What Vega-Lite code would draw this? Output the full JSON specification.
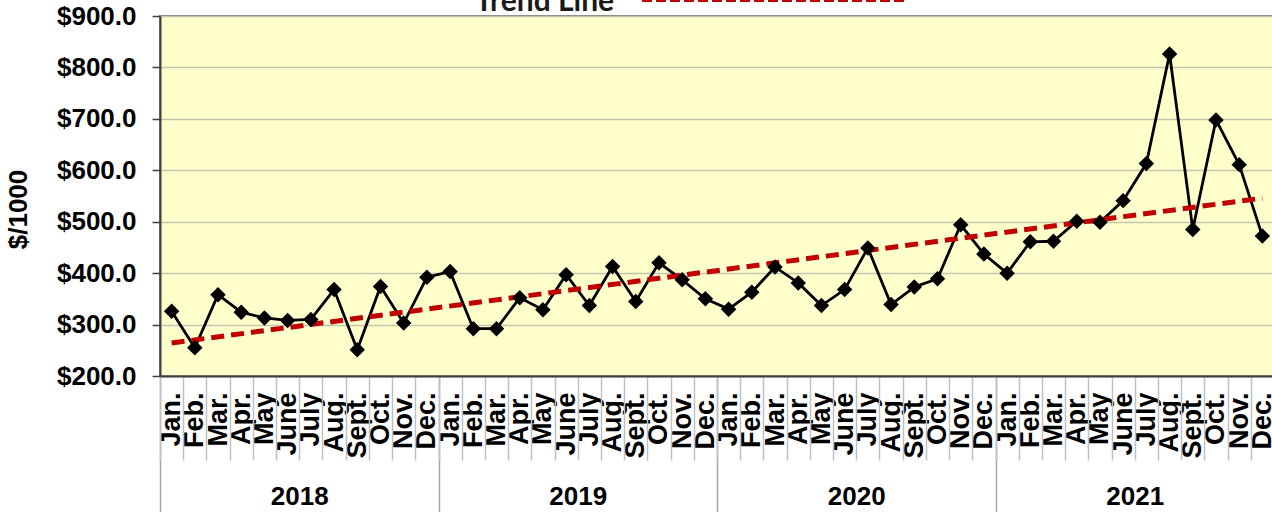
{
  "$schema": "https://vega.github.io/schema/vega-lite/v6.json",
  "width": 1114,
  "height": 360,
  "autosize": {"type": "none"},
  "padding": {"left": 160, "top": 16, "right": 0, "bottom": 136},
  "background": "white",
  "config": {
    "view": {"fill": "#FFFFCC", "stroke": "#808080", "strokeWidth": 2},
    "font": "Liberation Sans"
  },
  "data": {
    "values": [
      {"i": 1, "year": 2018, "month": "Jan.", "value": 326},
      {"i": 2, "year": 2018, "month": "Feb.", "value": 255},
      {"i": 3, "year": 2018, "month": "Mar.", "value": 358},
      {"i": 4, "year": 2018, "month": "Apr.", "value": 324},
      {"i": 5, "year": 2018, "month": "May", "value": 313},
      {"i": 6, "year": 2018, "month": "June", "value": 308},
      {"i": 7, "year": 2018, "month": "July", "value": 310},
      {"i": 8, "year": 2018, "month": "Aug.", "value": 368},
      {"i": 9, "year": 2018, "month": "Sept.", "value": 251},
      {"i": 10, "year": 2018, "month": "Oct.", "value": 374},
      {"i": 11, "year": 2018, "month": "Nov.", "value": 303},
      {"i": 12, "year": 2018, "month": "Dec.", "value": 392},
      {"i": 13, "year": 2019, "month": "Jan.", "value": 403},
      {"i": 14, "year": 2019, "month": "Feb.", "value": 292},
      {"i": 15, "year": 2019, "month": "Mar.", "value": 292},
      {"i": 16, "year": 2019, "month": "Apr.", "value": 352},
      {"i": 17, "year": 2019, "month": "May", "value": 329},
      {"i": 18, "year": 2019, "month": "June", "value": 397},
      {"i": 19, "year": 2019, "month": "July", "value": 337},
      {"i": 20, "year": 2019, "month": "Aug.", "value": 413},
      {"i": 21, "year": 2019, "month": "Sept.", "value": 345},
      {"i": 22, "year": 2019, "month": "Oct.", "value": 420},
      {"i": 23, "year": 2019, "month": "Nov.", "value": 387},
      {"i": 24, "year": 2019, "month": "Dec.", "value": 350},
      {"i": 25, "year": 2020, "month": "Jan.", "value": 330},
      {"i": 26, "year": 2020, "month": "Feb.", "value": 363},
      {"i": 27, "year": 2020, "month": "Mar.", "value": 412},
      {"i": 28, "year": 2020, "month": "Apr.", "value": 381},
      {"i": 29, "year": 2020, "month": "May", "value": 337},
      {"i": 30, "year": 2020, "month": "June", "value": 368},
      {"i": 31, "year": 2020, "month": "July", "value": 449},
      {"i": 32, "year": 2020, "month": "Aug.", "value": 339},
      {"i": 33, "year": 2020, "month": "Sept.", "value": 373},
      {"i": 34, "year": 2020, "month": "Oct.", "value": 389},
      {"i": 35, "year": 2020, "month": "Nov.", "value": 494},
      {"i": 36, "year": 2020, "month": "Dec.", "value": 437},
      {"i": 37, "year": 2021, "month": "Jan.", "value": 400},
      {"i": 38, "year": 2021, "month": "Feb.", "value": 461},
      {"i": 39, "year": 2021, "month": "Mar.", "value": 462},
      {"i": 40, "year": 2021, "month": "Apr.", "value": 501},
      {"i": 41, "year": 2021, "month": "May", "value": 499},
      {"i": 42, "year": 2021, "month": "June", "value": 541},
      {"i": 43, "year": 2021, "month": "July", "value": 613},
      {"i": 44, "year": 2021, "month": "Aug.", "value": 826},
      {"i": 45, "year": 2021, "month": "Sept.", "value": 485},
      {"i": 46, "year": 2021, "month": "Oct.", "value": 698},
      {"i": 47, "year": 2021, "month": "Nov.", "value": 611},
      {"i": 48, "year": 2021, "month": "Dec.", "value": 472}
    ]
  },
  "encoding": {
    "y": {
      "field": "value",
      "type": "quantitative",
      "scale": {"domain": [200, 900], "nice": false, "zero": false},
      "axis": {
        "title": "$/1000",
        "titleFont": "Liberation Sans",
        "titleFontSize": 26,
        "titleFontWeight": "bold",
        "titleColor": "black",
        "titleAngle": -90,
        "titleAlign": "center",
        "titleBaseline": "middle",
        "titleX": -142,
        "titleY": 193,
        "values": [200, 300, 400, 500, 600, 700, 800, 900],
        "format": "$.1f",
        "labelFont": "Liberation Sans",
        "labelFontSize": 26,
        "labelFontWeight": "bold",
        "labelColor": "black",
        "labelPadding": 16,
        "tickSize": 8,
        "tickColor": "#404040",
        "tickWidth": 1.5,
        "domainColor": "#404040",
        "domainWidth": 2,
        "grid": true,
        "gridColor": "#c4c4b0",
        "gridWidth": 1.5
      }
    }
  },
  "layer": [
    {
      "mark": {"type": "line", "color": "black", "strokeWidth": 2.8},
      "encoding": {
        "x": {
          "field": "i",
          "type": "quantitative",
          "scale": {"domain": [0.5, 48.5], "nice": false, "zero": false},
          "axis": {
            "orient": "bottom",
            "title": null,
            "values": [1,2,3,4,5,6,7,8,9,10,11,12,13,14,15,16,17,18,19,20,21,22,23,24,25,26,27,28,29,30,31,32,33,34,35,36,37,38,39,40,41,42,43,44,45,46,47,48],
            "labelExpr": "['Jan.','Feb.','Mar.','Apr.','May','June','July','Aug.','Sept.','Oct.','Nov.','Dec.'][(datum.value - 1) % 12]",
            "labelAngle": -90,
            "labelFont": "Liberation Sans",
            "labelFontSize": 27,
            "labelFontWeight": "bold",
            "labelColor": "black",
            "labelPadding": 16,
            "ticks": false,
            "tickSize": 0,
            "domain": false,
            "grid": false,
            "labelOverlap": false,
            "labelBound": false,
            "labelFlush": false
          }
        }
      }
    },
    {
      "transform": [{"regression": "value", "on": "i", "extent": [1, 48]}],
      "mark": {"type": "line", "strokeWidth": 5, "strokeDash": [13, 7]},
      "encoding": {
        "x": {
          "field": "i",
          "type": "quantitative",
          "scale": {"domain": [0.5, 48.5], "nice": false, "zero": false},
          "axis": {
            "orient": "bottom",
            "title": null,
            "values": [0.5, 6.5, 12.5, 18.5, 24.5, 30.5, 36.5, 42.5, 48.5],
            "labelExpr": "datum.value % 12 == 6.5 ? '' + (2018 + floor(datum.value / 12)) : ''",
            "labelAngle": 0,
            "labelFont": "Liberation Sans",
            "labelFontSize": 26,
            "labelFontWeight": "bold",
            "labelColor": "black",
            "labelPadding": -29,
            "tickSize": 136,
            "tickWidth": 1.5,
            "tickColor": {"condition": {"test": "datum.value % 12 == 0.5", "value": "#a6a6a6"}, "value": "rgba(0,0,0,0)"},
            "domain": false,
            "grid": false,
            "labelOverlap": false,
            "labelBound": false,
            "labelFlush": false
          }
        },
        "color": {
          "datum": "Trend Line",
          "type": "nominal",
          "scale": {"range": ["#C00000"]},
          "legend": {
            "orient": "none",
            "legendX": 315,
            "legendY": -150,
            "padding": 0,
            "title": "Trend Line",
            "titleOrient": "left",
            "titleAnchor": "middle",
            "titleBaseline": "middle",
            "titleFont": "Lato",
            "titleFontSize": 30,
            "titleFontWeight": "bold",
            "titleColor": "#1a1a1a",
            "titlePadding": 25,
            "symbolType": "stroke",
            "symbolSize": 69696,
            "symbolStrokeWidth": 4,
            "symbolDash": [10, 4],
            "symbolStrokeColor": "#E01010",
            "labelExpr": "''",
            "encode": {
              "title": {"update": {"dy": {"value": 65}}},
              "symbols": {"update": {"stroke": {"value": "#E01010"}}}
            }
          }
        }
      }
    },
    {
      "mark": {"type": "point", "shape": "diamond", "filled": true, "color": "black", "size": 240, "opacity": 1},
      "encoding": {
        "x": {
          "field": "i",
          "type": "quantitative",
          "scale": {"domain": [0.5, 48.5], "nice": false, "zero": false},
          "axis": {
            "orient": "bottom",
            "title": null,
            "values": [0.5,1.5,2.5,3.5,4.5,5.5,6.5,7.5,8.5,9.5,10.5,11.5,12.5,13.5,14.5,15.5,16.5,17.5,18.5,19.5,20.5,21.5,22.5,23.5,24.5,25.5,26.5,27.5,28.5,29.5,30.5,31.5,32.5,33.5,34.5,35.5,36.5,37.5,38.5,39.5,40.5,41.5,42.5,43.5,44.5,45.5,46.5,47.5,48.5],
            "labels": false,
            "tickSize": 84,
            "tickColor": "#c0c0c0",
            "tickWidth": 1.5,
            "domain": true,
            "domainColor": "#404040",
            "domainWidth": 2,
            "grid": false
          }
        }
      }
    }
  ],
  "resolve": {"axis": {"x": "independent"}}
}
